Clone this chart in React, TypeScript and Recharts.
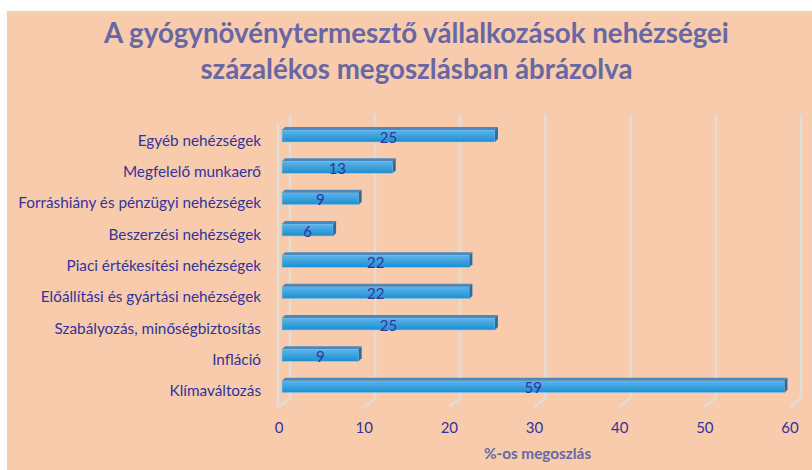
import React from 'react';
import { BarChart, Bar, XAxis, YAxis, CartesianGrid, LabelList } from 'recharts';

const categories = [
  'Egyéb nehézségek',
  'Megfelelő munkaerő',
  'Forráshiány és pénzügyi nehézségek',
  'Beszerzési nehézségek',
  'Piaci értékesítési nehézségek',
  'Előállítási és gyártási nehézségek',
  'Szabályozás, minőségbiztosítás',
  'Infláció',
  'Klímaváltozás',
];
const values = [25, 13, 9, 6, 22, 22, 25, 9, 59];
const xTicks = [0, 10, 20, 30, 40, 50, 60];
const titleLines = ['A gyógynövénytermesztő vállalkozások nehézségei', 'százalékos megoszlásban ábrázolva'];
const xTitle = '%-os megoszlás';

const data = categories.map((name, i) => ({ name, v: values[i] }));

const FONT = 'Lato, "Noto Sans", sans-serif';
const TEXT = '#33339a';
const TITLE = '#6767a3';
const GRID = '#e2dcd6';

const Bar3D = (p: any) => {
  const { x, y, width, height } = p;
  const d = 3;
  const w = Math.max(width, 0);
  return (
    <g>
      <rect x={x} y={y + d} width={w} height={height - d} fill="url(#barGrad)" stroke="#9cc8e4" strokeWidth={0.6} />
      <polygon points={`${x},${y + d} ${x + d},${y} ${x + w + d},${y} ${x + w},${y + d}`} fill="#4b88bd" />
      <polygon points={`${x + w},${y + d} ${x + w + d},${y} ${x + w + d},${y + height - d} ${x + w},${y + height}`} fill="#2a6c9c" />
    </g>
  );
};

const GridLine = (p: any) => {
  const { x1, y1, y2, index } = p;
  return (
    <g key={`g-${index}`}>
      <path d={`M${x1 + 8},${y1 - 5} L${x1 + 8},${y2 - 3} L${x1 - 3},${y2 + 6}`} fill="none" stroke={GRID} strokeWidth={2.5} />
      {index === 0 ? <line x1={x1 - 4} y1={y1 + 3} x2={x1 - 4} y2={y2 + 6} stroke={GRID} strokeWidth={2.5} /> : null}
    </g>
  );
};

const YTick = (p: any) => {
  const { x, y, payload } = p;
  return (
    <text x={x} y={y + 5} textAnchor="end" dominantBaseline="central" fontFamily={FONT} fontSize={15.3} fill={TEXT}>
      {payload.value}
    </text>
  );
};

const XTick = (p: any) => {
  const { x, y, payload } = p;
  return (
    <text x={x - 3} y={y + 26} textAnchor="middle" dominantBaseline="central" fontFamily={FONT} fontSize={15} fill={TEXT}>
      {payload.value}
    </text>
  );
};

const ValueLabel = (p: any) => {
  const { x, y, width, height, value } = p;
  return (
    <text x={x + width / 2} y={y + height / 2 + 2} textAnchor="middle" dominantBaseline="central" fontFamily={FONT} fontSize={15} fill={TEXT}>
      {value}
    </text>
  );
};

export default function App() {
  return (
    <div style={{ position: 'absolute', left: 0, top: 0, width: 812, height: 470, background: '#ffffff', overflow: 'hidden' }}>
      <div style={{ position: 'absolute', left: 7, top: 11, right: 0, bottom: 0, background: '#f8cbad' }} />
      <div
        style={{
          position: 'absolute',
          left: 21,
          right: 0,
          top: 15,
          textAlign: 'center',
          fontFamily: FONT,
          fontWeight: 700,
          fontSize: 27.7,
          lineHeight: '36px',
          color: TITLE,
          letterSpacing: '0px',
        }}
      >
        <div>{titleLines[0]}</div>
        <div>{titleLines[1]}</div>
      </div>
      <div style={{ position: 'absolute', left: 0, top: 0 }}>
        <BarChart
          width={812}
          height={470}
          data={data}
          layout="vertical"
          margin={{ top: 119, right: 19, bottom: 39, left: 0 }}
          barSize={15}
        >
          <defs>
            <linearGradient id="barGrad" x1="0" y1="0" x2="0" y2="1">
              <stop offset="0%" stopColor="#5db4e9" />
              <stop offset="100%" stopColor="#1b8fd2" />
            </linearGradient>
          </defs>
          <CartesianGrid horizontal={false} vertical={GridLine} />
          <XAxis
            type="number"
            domain={[0, 60]}
            ticks={xTicks}
            axisLine={false}
            tickLine={false}
            tickSize={0}
            tickMargin={0}
            height={30}
            tick={<XTick />}
            label={{
              value: xTitle,
              position: 'bottom',
              offset: 17,
              style: { fontFamily: FONT, fontSize: 15.3, fontWeight: 700, fill: TITLE },
            }}
          />
          <YAxis
            type="category"
            dataKey="name"
            width={282}
            axisLine={false}
            tickLine={false}
            tickSize={0}
            tickMargin={21}
            tick={<YTick />}
            interval={0}
          />
          <Bar dataKey="v" shape={<Bar3D />} isAnimationActive={false}>
            <LabelList dataKey="v" content={<ValueLabel />} />
          </Bar>
        </BarChart>
      </div>
    </div>
  );
}
